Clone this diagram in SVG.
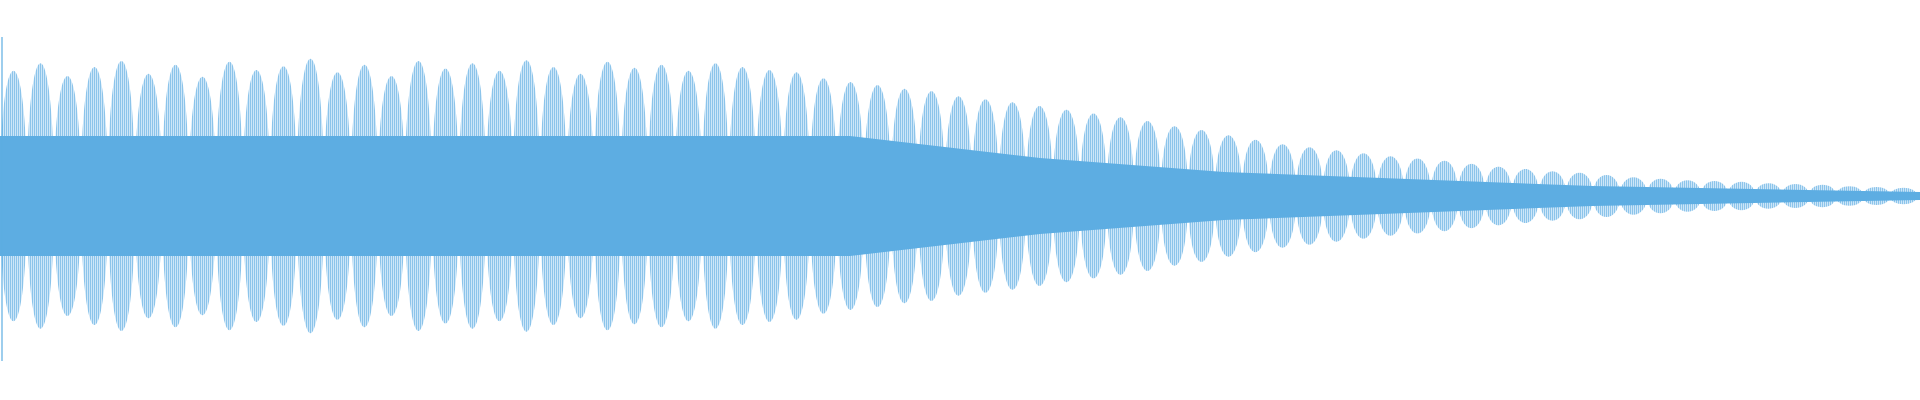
<svg xmlns="http://www.w3.org/2000/svg" xmlns:xlink="http://www.w3.org/1999/xlink" width="1920" height="400" viewBox="0 0 1920 400">
<defs>
<pattern id="stripes" width="2" height="10" patternUnits="userSpaceOnUse">
<rect x="0" y="0" width="2" height="10" fill="#cde6f8"/>
<rect x="0" y="0" width="1" height="10" fill="#8cc4ea"/>
</pattern>
<path id="top" d="M0,196 C0,29 27,29 27,196 C27,19 54,19 54,196 C54,36 81,36 81,196 C81,24 108,24 108,196 C108,16 135,16 135,196 C135,33 162,33 162,196 C162,21 189,21 189,196 C189,37 216,37 216,196 C216,17 243,17 243,196 C243,28 270,28 270,196 C270,23 297,23 297,196 C297,13 324,13 324,196 C324,31 351,31 351,196 C351,21 378,21 378,196 C378,36 405,36 405,196 C405,16 432,16 432,196 C432,26 459,26 459,196 C459,19 486,19 486,196 C486,29 513,29 513,196 C513,15 540,15 540,196 C540,24 567,24 567,196 C567,33 594,33 594,196 C594,17 621,17 621,196 C621,25 648,25 648,196 C648,21 675,21 675,196 C675,29 702,29 702,196 C702,19 729,19 729,196 C729,24 756,24 756,196 C756,28 783,28 783,196 C783,31 810,31 810,196 C810,39 837,39 837,196 C837,44 864,44 864,196 C864,48 891,48 891,196 C891,53 918,53 918,196 C918,56 945,56 945,196 C945,63 972,63 972,196 C972,67 999,67 999,196 C999,71 1026,71 1026,196 C1026,76 1053,76 1053,196 C1053,81 1080,81 1080,196 C1080,86 1107,86 1107,196 C1107,91 1134,91 1134,196 C1134,96 1161,96 1161,196 C1161,103 1188,103 1188,196 C1188,108 1215,108 1215,196 C1215,115 1242,115 1242,196 C1242,121 1269,121 1269,196 C1269,127 1296,127 1296,196 C1296,131 1323,131 1323,196 C1323,135 1350,135 1350,196 C1350,139 1377,139 1377,196 C1377,143 1404,143 1404,196 C1404,146 1431,146 1431,196 C1431,149 1458,149 1458,196 C1458,153 1485,153 1485,196 C1485,157 1512,157 1512,196 C1512,160 1539,160 1539,196 C1539,163 1566,163 1566,196 C1566,165 1593,165 1593,196 C1593,168 1620,168 1620,196 C1620,171 1647,171 1647,196 C1647,173 1674,173 1674,196 C1674,175 1701,175 1701,196 C1701,176 1728,176 1728,196 C1728,177 1755,177 1755,196 C1755,179 1782,179 1782,196 C1782,180 1809,180 1809,196 C1809,181 1836,181 1836,196 C1836,183 1863,183 1863,196 C1863,184 1890,184 1890,196 C1890,185 1917,185 1917,196 L1920,196 Z"/>
</defs>
<rect width="1920" height="400" fill="#ffffff"/>
<g id="lobes" fill="url(#stripes)">
<use xlink:href="#top"/>
<use xlink:href="#top" transform="translate(0,392) scale(1,-1)"/>
</g>
<path id="core" fill="#5dade2" d="M0,136 L850,136 L1040,158 L1224,172 L1592,186 L1920,192 L1920,200 L1592,206 L1224,220 L1040,234 L850,256 L0,256 Z"/>
<line x1="2" y1="37" x2="2" y2="361" stroke="#5dade2" stroke-width="1.2"/>
</svg>
